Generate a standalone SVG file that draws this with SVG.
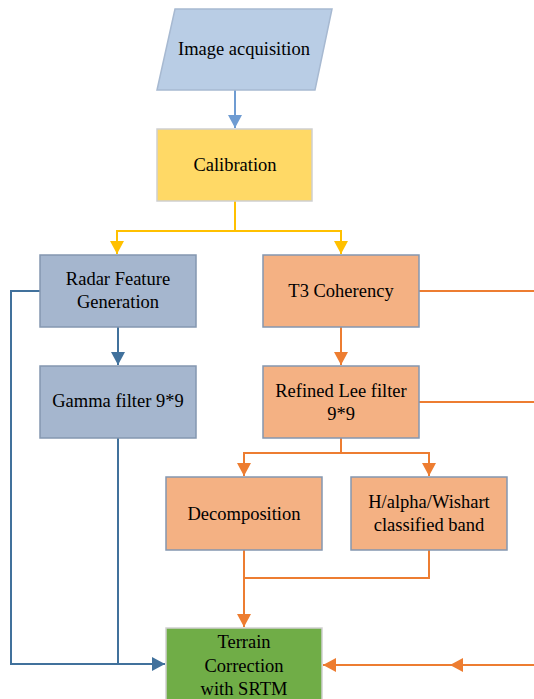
<svg xmlns="http://www.w3.org/2000/svg" width="534" height="699" viewBox="0 0 534 699">
<style>
text{font-size:18.5px;fill:#000;text-anchor:middle}
.c{fill:none;stroke-width:2}
.bl{stroke:#41719C}
.lb{stroke:#6F9CD2}
.ye{stroke:#FFC000}
.or{stroke:#ED7D31}
.nb{fill:#A5B6CE;stroke:#8497B0;stroke-width:1.5}
.no{fill:#F4B183;stroke:#8497B0;stroke-width:1.5}
</style>
<defs>
<marker id="aBl" markerUnits="userSpaceOnUse" markerWidth="14" markerHeight="14" refX="13" refY="7" orient="auto"><path d="M0,0L13,7L0,14z" fill="#41719C"/></marker>
<marker id="aLb" markerUnits="userSpaceOnUse" markerWidth="14" markerHeight="14" refX="13" refY="7" orient="auto"><path d="M0,0L13,7L0,14z" fill="#6F9CD2"/></marker>
<marker id="aYe" markerUnits="userSpaceOnUse" markerWidth="14" markerHeight="14" refX="13" refY="7" orient="auto"><path d="M0,0L13,7L0,14z" fill="#FFC000"/></marker>
<marker id="aOr" markerUnits="userSpaceOnUse" markerWidth="14" markerHeight="14" refX="13" refY="7" orient="auto"><path d="M0,0L13,7L0,14z" fill="#ED7D31"/></marker>
</defs>
<g id="connectors">
<path class="c lb" d="M235,90V128" marker-end="url(#aLb)"/>
<path class="c ye" d="M235,201V231H117V254" marker-end="url(#aYe)"/>
<path class="c ye" d="M235,231H341V254" marker-end="url(#aYe)"/>
<path class="c bl" d="M40,291H11V664H165" marker-end="url(#aBl)"/>
<path class="c bl" d="M118,327V365" marker-end="url(#aBl)"/>
<path class="c bl" d="M118,438V664"/>
<path class="c or" d="M419,291H534"/>
<path class="c or" d="M419,402H534"/>
<path class="c or" d="M341,327V365" marker-end="url(#aOr)"/>
<path class="c or" d="M341,438V453H244V476" marker-end="url(#aOr)"/>
<path class="c or" d="M341,453H429V476" marker-end="url(#aOr)"/>
<path class="c or" d="M429,550V578H244"/>
<path class="c or" d="M244,550V627" marker-end="url(#aOr)"/>
<path class="c or" d="M534,665H450" marker-end="url(#aOr)"/>
<path class="c or" d="M452,665H323" marker-end="url(#aOr)"/>
</g>
<g font-family="Liberation Serif, serif">
<g id="image-acquisition">
<polygon points="175,9 332,9 315,90 157,90" fill="#B9CDE5" stroke="#A7B9D1" stroke-width="1.5"/>
<text x="244" y="55">Image acquisition</text>
</g>
<g id="calibration">
<rect x="157" y="129" width="155" height="72" fill="#FFD966" stroke="#CFCFCF" stroke-width="1.5"/>
<text x="235" y="171">Calibration</text>
</g>
<g id="radar-feature">
<rect class="nb" x="40" y="255" width="156" height="72"/>
<text x="118" y="285">Radar Feature</text>
<text x="118" y="308">Generation</text>
</g>
<g id="t3-coherency">
<rect class="no" x="263" y="255" width="156" height="72"/>
<text x="341" y="297">T3 Coherency</text>
</g>
<g id="gamma-filter">
<rect class="nb" x="40" y="366" width="156" height="72"/>
<text x="118" y="407">Gamma filter 9*9</text>
</g>
<g id="refined-lee">
<rect class="no" x="263" y="366" width="156" height="72"/>
<text x="341" y="397">Refined Lee filter</text>
<text x="341" y="420">9*9</text>
</g>
<g id="decomposition">
<rect class="no" x="166" y="477" width="156" height="73"/>
<text x="244" y="520">Decomposition</text>
</g>
<g id="h-alpha-wishart">
<rect class="no" x="351" y="477" width="156" height="73"/>
<text x="429" y="508">H/alpha/Wishart</text>
<text x="429" y="531">classified band</text>
</g>
<g id="terrain-correction">
<rect x="166" y="628" width="156" height="80" fill="#70AD47" stroke="#CFCFCF" stroke-width="1.5"/>
<text x="244" y="648">Terrain</text>
<text x="244" y="672">Correction</text>
<text x="244" y="695">with SRTM</text>
</g>
</g>
</svg>
